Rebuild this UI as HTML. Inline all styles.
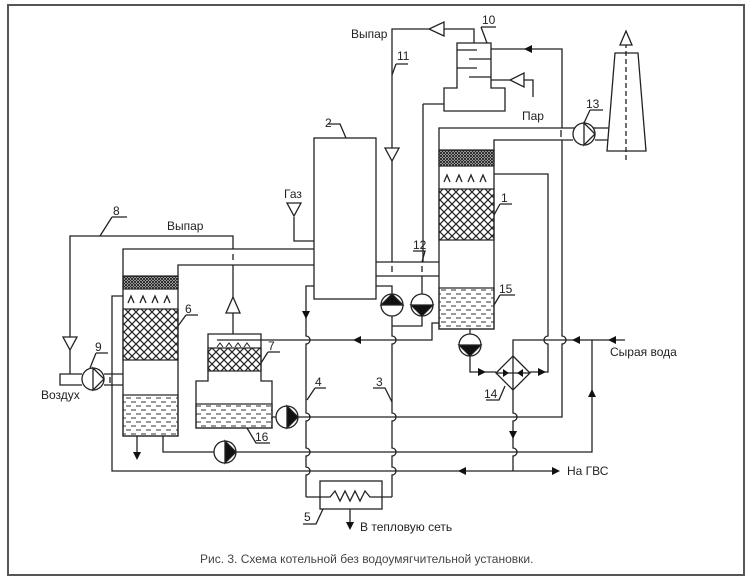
<!DOCTYPE html>
<html><head><meta charset="utf-8"><style>
html,body{margin:0;padding:0;background:#fff}
svg{display:block}
text{font-family:"Liberation Sans",sans-serif;fill:#222}
</style></head><body>
<svg width="752" height="582" viewBox="0 0 752 582" xmlns="http://www.w3.org/2000/svg">
<defs>
<pattern id="ch" width="8" height="8" patternUnits="userSpaceOnUse">
<path d="M0,0 L8,8 M8,0 L0,8" stroke="#222" stroke-width="1.2"/>
</pattern>
<pattern id="dn" width="3" height="3" patternUnits="userSpaceOnUse">
<rect width="3" height="3" fill="#fff"/><path d="M0,0 L3,3 M3,0 L0,3" stroke="#222" stroke-width="1"/>
</pattern>
<pattern id="wt" width="10" height="8" patternUnits="userSpaceOnUse">
<path d="M1,2 H6 M6,6 H11 M-4,6 H1" stroke="#333" stroke-width="1"/>
</pattern>
</defs>
<rect x="8" y="5" width="736" height="570" fill="none" stroke="#555" stroke-width="2"/>
<g fill="none" stroke="#222" stroke-width="1.3">
<rect x="314" y="138" width="62" height="161"/>
<path d="M314,249 H123 V436 H178 V265 H314"/>
<path d="M596,128 H439 V329 H494 V140 H573"/>
<path d="M376,262 H439 M376,276 H439"/>
<path d="M208,334 H261 V381 H272 V428 H196 V381 H208 Z"/>
<path d="M457,43 H491 V88 H505 V111 H444 V88 H457 Z"/>
<path d="M457,50 H477 M469,59 H491 M457,68 H477 M469,77 H491"/>
<path d="M607,151 L615,53 H638 L646,151 Z"/>
<path d="M626,160 V45" stroke-dasharray="5,3"/>
<path d="M595,128 H609 M595,140 H608"/>
<rect x="320" y="481" width="62" height="28"/>
<path d="M306,497 H330 L335,491 L340,501 L345,491 L350,501 L355,491 L360,501 L365,491 L370,497 H392"/>
<path d="M350,509 V524"/>
<path d="M82,374 H60 V385 H82 M104,374 H123 M104,385 H123"/>
<path d="M70,337 V236 H233 V249 M233,254 V260 M233,265 V297 M233,313 V334"/>
<path d="M70,350 V374"/>
<path d="M294,217 V241 H314"/>
<path d="M474,43 V29 H444 M429,29 H392 V148 M392,161 V262 M392,266 V272"/>
<path d="M491,80 H510 M524,80 H533 V97"/>
<path d="M314,286 H306 V336 A4,4 0 0 1 306,344 V413 A4,4 0 0 1 306,421 V448 A4,4 0 0 1 306,456 V467 A4,4 0 0 1 306,475 V497"/>
<path d="M376,286 H392 V294 M392,316 V336 A4,4 0 0 1 392,344 V413 A4,4 0 0 1 392,421 V448 A4,4 0 0 1 392,456 V467 A4,4 0 0 1 392,475 V497"/>
<path d="M423,104 H444 M423,104 V262 M422,266 V272 M422,276 V294 M422,316 V326 H392"/>
<path d="M217,340 H432 V323 H439"/>
<path d="M272,417 H276 M298,417 H562 V344 A4,4 0 0 0 562,336 V140 M562,128 V49 H491"/>
<path d="M561,130 V137"/>
<path d="M163,436 V452 H214 M236,452 H592 V340"/>
<path d="M123,296 H112 V471 H552"/>
<path d="M110,377 V383"/>
<path d="M494,174 H548 V336 A4,4 0 0 0 548,344 V372 H530"/>
<path d="M470,329 V334 M470,356 V372 H496"/>
<path d="M513,356 L530,373 L513,390 L496,373 Z"/>
<path d="M513,356 V390 M496,373 H530"/>
<path d="M513,356 V340 H625"/>
<path d="M513,390 V413 A4,4 0 0 1 513,421 V448 A4,4 0 0 1 513,456 V471"/>
<path d="M137,436 V452"/>
<path d="M128,303 L131,296 L134,303 M140,303 L143,296 L146,303 M152,303 L155,296 L158,303 M164,303 L167,296 L170,303"/>
<path d="M444,182 L447,175 L450,182 M456,182 L459,175 L462,182 M468,182 L471,175 L474,182 M480,182 L483,175 L486,182"/>
<path d="M217,347 L220,343 L223,347 M226,347 L229,343 L232,347 M235,347 L238,343 L241,347 M244,347 L247,343 L250,347" stroke-width="1"/>
<path d="M328,124 H340 L346,138"/>
<path d="M112,217 H127 M112,217 L100,236"/>
<path d="M396,64 H408 M396,64 L392,75"/>
<path d="M481,27 H496 M481,27 L487,43"/>
<path d="M590,110 H603 M590,110 L584,123"/>
<path d="M413,251 H425 L422,262"/>
<path d="M500,204 H512 M500,204 L494,215"/>
<path d="M500,295 H515 M500,295 L494,305"/>
<path d="M186,315 H198 M186,315 L178,326"/>
<path d="M268,352 H280 M268,352 L261,363"/>
<path d="M96,353 H108 M96,353 L90,368"/>
<path d="M247,428 L256,443 H270"/>
<path d="M315,388 H326 M315,388 L307,400"/>
<path d="M373,388 H385 L392,402"/>
<path d="M303,524 H316 L323,509"/>
<path d="M486,400 H499 L505,386"/>
</g>
<g stroke="#222" stroke-width="1.2">
<rect x="123" y="276" width="55" height="13" fill="url(#dn)"/>
<rect x="123" y="309" width="55" height="51" fill="url(#ch)"/>
<rect x="439" y="150" width="55" height="16" fill="url(#dn)"/>
<rect x="439" y="189" width="55" height="51" fill="url(#ch)"/>
<rect x="208" y="348" width="53" height="23" fill="url(#ch)"/>
<rect x="123" y="395" width="55" height="41" fill="url(#wt)"/>
<rect x="439" y="288" width="55" height="41" fill="url(#wt)"/>
<rect x="196" y="404" width="76" height="24" fill="url(#wt)"/>
</g>
<g fill="#fff" stroke="#222" stroke-width="1.3">
<path d="M287,203 H301 L294,216 Z"/>
<path d="M63,337 H77 L70,350 Z"/>
<path d="M226,313 H240 L233,297 Z"/>
<path d="M385,148 H399 L392,161 Z"/>
<path d="M444,22 V36 L429,29 Z"/>
<path d="M524,73 V87 L510,80 Z"/>
<path d="M620,45 H632 L626,31 Z"/>
</g>
<g stroke="#222" stroke-width="1.3">
<circle cx="93" cy="379" r="11" fill="#fff"/><path d="M93,368 V390 L104,379 Z" fill="none"/>
<circle cx="584" cy="134" r="11" fill="#fff"/><path d="M584,123 V145 L595,134 Z" fill="none"/>
<circle cx="287" cy="417" r="11" fill="#fff"/><path d="M287,406 V428 L298,417 Z" fill="#111"/>
<circle cx="225" cy="452" r="11" fill="#fff"/><path d="M225,441 V463 L236,452 Z" fill="#111"/>
<circle cx="392" cy="305" r="11" fill="#fff"/><path d="M381,305 H403 L392,294 Z" fill="#111"/>
<circle cx="422" cy="305" r="11" fill="#fff"/><path d="M411,305 H433 L422,316 Z" fill="#111"/>
<circle cx="470" cy="345" r="11" fill="#fff"/><path d="M459,345 H481 L470,356 Z" fill="#111"/>
</g>
<g fill="#111">
<path d="M302,311 H310 L306,319 Z"/>
<path d="M361,336 V344 L353,340 Z"/>
<path d="M532,45 V53 L524,49 Z"/>
<path d="M580,336 V344 L572,340 Z"/>
<path d="M616,336 V344 L608,340 Z"/>
<path d="M588,397 H596 L592,389 Z"/>
<path d="M509,431 H517 L513,439 Z"/>
<path d="M466,467 V475 L458,471 Z"/>
<path d="M552,467 V475 L560,471 Z"/>
<path d="M478,368 V376 L486,372 Z"/>
<path d="M538,368 V376 L546,372 Z"/>
<path d="M503,369 V377 L509,373 Z"/>
<path d="M523,369 V377 L517,373 Z"/>
<path d="M133,452 H141 L137,460 Z"/>
<path d="M346,522 H354 L350,530 Z"/>
</g>
<g font-size="12">
<text x="325" y="127">2</text>
<text x="113" y="215">8</text>
<text x="167" y="230">Выпар</text>
<text x="284" y="198">Газ</text>
<text x="351" y="38">Выпар</text>
<text x="397" y="60">11</text>
<text x="482" y="24">10</text>
<text x="522" y="120">Пар</text>
<text x="586" y="108">13</text>
<text x="413" y="249">12</text>
<text x="501" y="202">1</text>
<text x="499" y="293">15</text>
<text x="185" y="313">6</text>
<text x="268" y="350">7</text>
<text x="95" y="351">9</text>
<text x="41" y="399">Воздух</text>
<text x="255" y="441">16</text>
<text x="315" y="386">4</text>
<text x="376" y="386">3</text>
<text x="304" y="521">5</text>
<text x="484" y="398">14</text>
<text x="610" y="356">Сырая вода</text>
<text x="567" y="475">На ГВС</text>
<text x="360" y="531">В тепловую сеть</text>
</g>
<text x="200" y="563" font-size="12" style="fill:#444">Рис. 3. Схема котельной без водоумягчительной установки.</text>
</svg>
</body></html>
